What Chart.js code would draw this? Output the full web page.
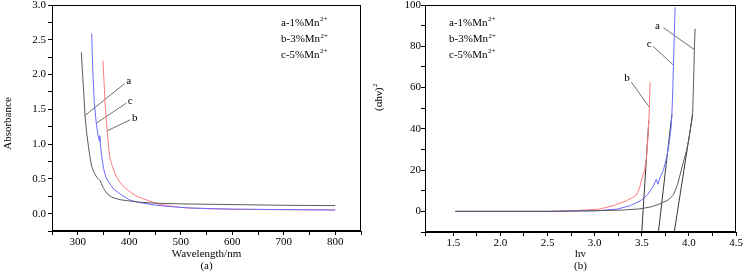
<!DOCTYPE html>
<html><head><meta charset="utf-8">
<script src="https://cdn.jsdelivr.net/npm/chart.js@4"></script>
<style>
html,body{margin:0;padding:0;background:#fff;width:746px;height:274px;overflow:hidden}
canvas{position:absolute;top:0}
#c1{left:0}
#c2{left:373px}
</style></head><body>
<canvas id="c1" width="373" height="274" style="width:373px;height:274px"></canvas>
<canvas id="c2" width="373" height="274" style="width:373px;height:274px"></canvas>
<script>
// ---------- (a) absorbance spectra ----------
const wlA = [307,309,311,314,317,321,324,327,331,337,341,344,346,349,353,358,366,375,383,402,420,450,500,600,700,800];
const absA = [2.32,2.05,1.82,1.42,1.18,0.95,0.80,0.68,0.60,0.52,0.49,0.47,0.43,0.38,0.33,0.28,0.235,0.215,0.20,0.18,0.165,0.15,0.14,0.13,0.12,0.115];
const wlB = [349,351,353,355,357,360,362,364,366,370,376,383,392,404,415,428,448,461,480,506,550,600,700,800];
const absB = [2.2,1.9,1.6,1.4,1.2,0.95,0.82,0.76,0.71,0.62,0.52,0.44,0.37,0.30,0.25,0.21,0.16,0.13,0.11,0.085,0.07,0.062,0.056,0.053];
const wlC = [327,329,332,336,340,342,343,344,346,350,355,363,370,383,400,415,448,480,520,600,700,800];
const absC = [2.59,2.1,1.6,1.3,1.1,1.04,1.12,1.0,0.85,0.65,0.52,0.42,0.35,0.28,0.20,0.165,0.125,0.10,0.08,0.065,0.058,0.052];
// leader lines (label end -> curve end) and label anchors, panel (a)
const leaderAX = [[391,314],[394.5,336],[402,357]];
const leaderAY = [[1.87,1.41],[1.59,1.30],[1.35,1.19]];
const labelAText = ['a','c','b'];
const labelAX = [399,402,410.7];
const labelAY = [1.90,1.62,1.38];

// ---------- (b) (αhν)² plots ----------
const hvA = [1.52,2.5,3.0,3.27,3.48,3.6,3.69,3.78,3.836,3.88,3.925,3.975,4.0,4.03,4.04,4.05,4.058,4.066];
const ahvA = [0,0,0.3,0.6,1.2,2.2,3.6,5.5,8,13,21,29.5,35,44,48,62,78,88.5];
const hvB = [1.52,2.5,2.77,3.05,3.2,3.34,3.42,3.44,3.46,3.48,3.51,3.53,3.55,3.565,3.575,3.582,3.589];
const ahvB = [0,0,0.3,1.1,2.8,5.2,7.2,7.7,9.5,12,17,20,26,36,44,52,62.6];
const hvC = [1.52,2.5,3.02,3.24,3.38,3.49,3.56,3.62,3.655,3.67,3.7,3.73,3.766,3.79,3.81,3.82,3.83,3.836,3.845,3.854];
const ahvC = [0,0,0.3,1.1,2.8,5.2,8,12,15.6,13.2,17,20,26.5,33,40,47,60,70.7,85,98.9];
const tangentX = [[3.50,3.575],[3.677,3.82],[3.845,4.04]];
const tangentY = [[-10,44],[-10,47],[-10,47]];
const leaderBX = [[3.73,4.06],[3.62,3.84],[3.39,3.585]];
const leaderBY = [[89,78.3],[80,70.7],[62.6,50.2]];
const labelBText = ['a','c','b'];
const labelBX = [3.667,3.578,3.344];
const labelBY = [90,81,64.7];

const legendMain = ['a-1%Mn','b-3%Mn','c-5%Mn'];
const legendSup = '2+';

const FONT = "'Liberation Serif','Times New Roman',serif";
Chart.defaults.font.family = FONT;
Chart.defaults.font.size = 11;
Chart.defaults.color = '#000';

const GRAY = '#5a5a5a', RED = '#ff7b7b', BLUE = '#6b6bff', LEAD = '#707070', TAN = '#3a3a3a';

function ds(xs, ys, color, w) {
  return { data: xs.map((x, i) => ({x: x, y: ys[i]})), borderColor: color, backgroundColor: color,
    borderWidth: w || 1, pointRadius: 0, showLine: true, fill: false, tension: 0 };
}

function frameAndText(opts) {
  return {
    id: 'frameText',
    afterDraw(chart) {
      const ctx = chart.ctx, a = chart.chartArea, sx = chart.scales.x, sy = chart.scales.y;
      ctx.save();
      ctx.strokeStyle = '#000'; ctx.lineWidth = 1;
      ctx.strokeRect(Math.round(a.left) + 0.5, Math.round(a.top) + 0.5,
        Math.round(a.right - a.left) - 1, Math.round(a.bottom - a.top) - 1);
      ctx.fillStyle = '#000';
      // curve labels
      ctx.font = '11px ' + FONT;
      ctx.textAlign = 'center'; ctx.textBaseline = 'middle';
      opts.labels.t.forEach((t, i) => {
        ctx.fillText(t, sx.getPixelForValue(opts.labels.x[i]), sy.getPixelForValue(opts.labels.y[i]));
      });
      // legend text
      ctx.textAlign = 'left';
      legendMain.forEach((t, i) => {
        const x = a.left + opts.legendX, y = opts.legendY[i];
        ctx.font = '11px ' + FONT;
        ctx.fillText(t, x, y);
        const w = ctx.measureText(t).width;
        ctx.font = '7px ' + FONT;
        ctx.fillText(legendSup, x + w + 0.5, y - 3.5);
      });
      // y title
      ctx.translate(opts.yTitle.x, opts.yTitle.y);
      ctx.rotate(-Math.PI / 2);
      ctx.font = '11px ' + FONT;
      const mw = ctx.measureText(opts.yTitle.text).width;
      let sw = 0;
      if (opts.yTitle.sup) { ctx.font = '7px ' + FONT; sw = ctx.measureText(opts.yTitle.sup).width; }
      const x0 = -(mw + sw) / 2;
      ctx.font = '11px ' + FONT;
      ctx.fillText(opts.yTitle.text, x0, 0);
      if (opts.yTitle.sup) { ctx.font = '7px ' + FONT; ctx.fillText(opts.yTitle.sup, x0 + mw + 0.5, -4); }
      ctx.restore();
    }
  };
}

function axisX(min, max, step, cb, title, h) {
  return { type: 'linear', min: min, max: max,
    afterFit(s) { s.height = h; s.paddingLeft = 0; s.paddingRight = 0; },
    ticks: { stepSize: step, autoSkip: false, maxRotation: 0, minRotation: 0, padding: 1, maxTicksLimit: 100, callback: cb },
    grid: { display: true, drawOnChartArea: false, drawTicks: true, tickLength: 4, tickColor: '#000', color: '#000' },
    border: { display: true, color: '#000', width: 1 },
    title: { display: true, text: title, font: { size: 11, lineHeight: 1.09 }, padding: { top: 0, bottom: 2 } } };
}
function axisY(min, max, step, cb, pad) {
  return { type: 'linear', min: min, max: max,
    afterFit(s) { s.width = 52; s.paddingTop = 0; s.paddingBottom = 0; },
    ticks: { stepSize: step, autoSkip: false, padding: pad, maxTicksLimit: 100, callback: cb },
    grid: { display: true, drawOnChartArea: false, drawTicks: true, tickLength: 4, tickColor: '#000', color: '#000' },
    border: { display: true, color: '#000', width: 1 } };
}

const commonOpts = { responsive: false, animation: false, events: [],
  plugins: { legend: { display: false }, tooltip: { enabled: false } } };

// Chart (a)
const dsA = [ds(wlA, absA, GRAY), ds(wlC, absC, BLUE), ds(wlB, absB, RED)];
leaderAX.forEach((xs, i) => dsA.push(ds(xs, leaderAY[i], LEAD)));
new Chart(document.getElementById('c1'), {
  type: 'scatter',
  data: { datasets: dsA },
  options: Object.assign({}, commonOpts, {
    layout: { padding: { top: 5, right: 12, bottom: 0, left: 0 } },
    scales: {
      x: axisX(250, 850, 50, v => (v % 100 === 0 && v >= 300 && v <= 800) ? String(v) : '', ['Wavelength/nm', '(a)'], 43),
      y: axisY(-0.25, 3, 0.25, v => (v >= 0 && Math.abs(v * 2 - Math.round(v * 2)) < 1e-6) ? v.toFixed(1) : '', 2)
    }
  }),
  plugins: [frameAndText({ labels: { t: labelAText, x: labelAX, y: labelAY }, legendX: 229, legendY: [23, 39.5, 55],
    yTitle: { text: 'Absorbance', x: 8, y: 123.5 } })]
});

// Chart (b)
const dsB = [ds(hvA, ahvA, GRAY), ds(hvC, ahvC, BLUE), ds(hvB, ahvB, RED)];
tangentX.forEach((xs, i) => dsB.push(ds(xs, tangentY[i], TAN)));
leaderBX.forEach((xs, i) => dsB.push(ds(xs, leaderBY[i], LEAD)));
new Chart(document.getElementById('c2'), {
  type: 'scatter',
  data: { datasets: dsB },
  options: Object.assign({}, commonOpts, {
    layout: { padding: { top: 5, right: 10, bottom: 0, left: 0 } },
    scales: {
      x: axisX(1.2, 4.5, 0.25, v => (Math.abs(v * 2 - Math.round(v * 2)) < 1e-6 && v >= 1.5) ? v.toFixed(1) : '', ['hv', '(b)'], 42),
      y: axisY(-10, 100, 10, v => (v % 20 === 0 && v >= 0) ? String(v) : '', 0)
    }
  }),
  plugins: [frameAndText({ labels: { t: labelBText, x: labelBX, y: labelBY }, legendX: 24, legendY: [23, 39.5, 55],
    yTitle: { text: '(αhν)', sup: '2', x: 6, y: 97.5 } })]
});
</script>
</body></html>
